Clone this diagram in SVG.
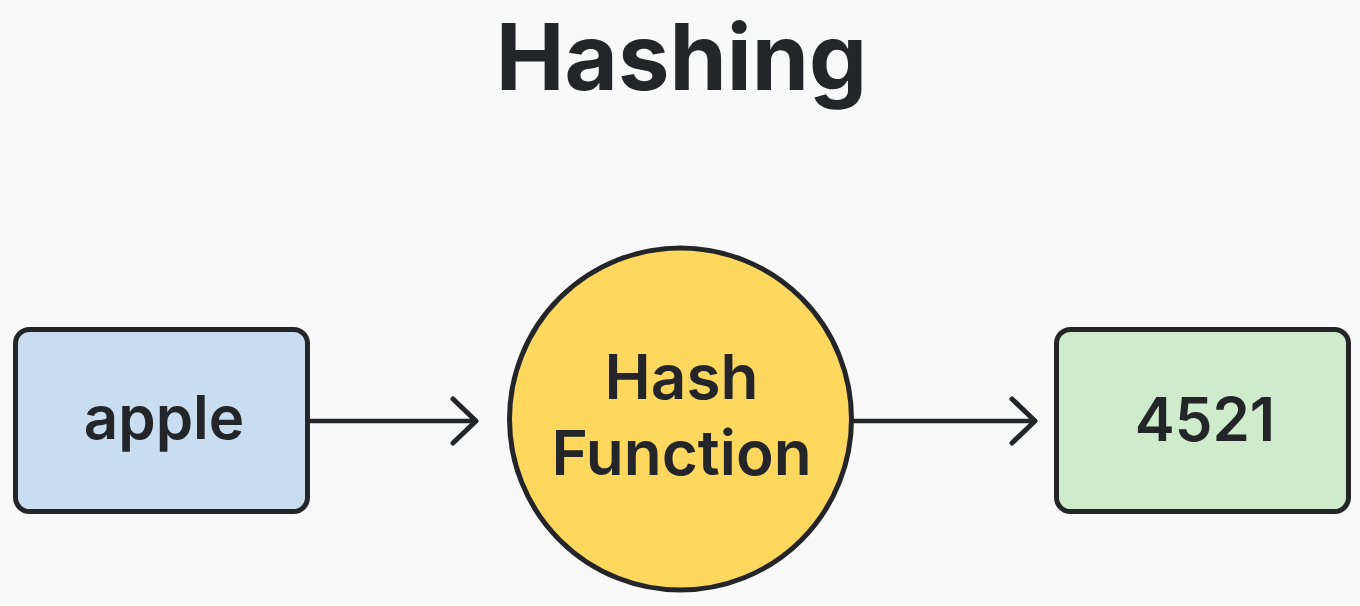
<svg xmlns="http://www.w3.org/2000/svg" width="1360" height="606" viewBox="0 0 1360 606">
<style>
.bg{fill:#f9f9f9}
.box{stroke:#232528;stroke-width:5}
.lbl{font-family:Inter,"Liberation Sans",Arial,sans-serif;font-weight:600;fill:#232528;text-anchor:middle}
.title{font-family:Inter,"Liberation Sans",Arial,sans-serif;font-weight:700;fill:#232528;text-anchor:middle}
.conn{stroke:#232528;stroke-width:4.5;fill:none;stroke-linecap:round}
</style>
<defs>
<marker id="chev" markerUnits="userSpaceOnUse" markerWidth="40" markerHeight="60" refX="26" refY="26" orient="auto" viewBox="0 0 40 60">
<path d="M3,4 L26,26 L3,48" fill="none" stroke="#232528" stroke-width="5" stroke-linecap="round" stroke-linejoin="round"/>
</marker>
</defs>
<rect class="bg" x="0" y="0" width="1360" height="606"/>
<text id="title" class="title" x="681.5" y="90" font-size="92">Hashing</text>
<g id="connectors">
<line class="conn" x1="310" y1="421" x2="476" y2="421" marker-end="url(#chev)"/>
<line class="conn" x1="853" y1="421" x2="1035" y2="421" marker-end="url(#chev)"/>
</g>
<g id="node-apple">
<rect class="box" x="15.5" y="329.5" width="292" height="182" rx="14" fill="#c9ddf1"/>
<text class="lbl" x="164" y="439" font-size="60">apple</text>
</g>
<g id="node-hash">
<circle class="box" cx="680.5" cy="419" r="171" fill="#fdd75e"/>
<text class="lbl" x="681.5" y="399" font-size="62">Hash</text>
<text class="lbl" x="681.5" y="475" font-size="62">Function</text>
</g>
<g id="node-4521">
<rect class="box" x="1056.5" y="329.5" width="292" height="182" rx="14" fill="#ceebcc"/>
<text class="lbl" x="1205" y="441" font-size="60">4521</text>
</g>
</svg>
